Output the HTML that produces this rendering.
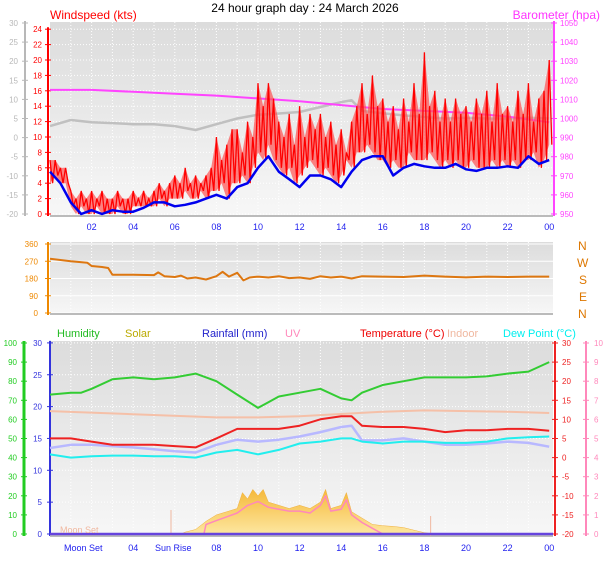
<!DOCTYPE html>
<html><head><meta charset="utf-8"><style>
body{margin:0;background:#fff;}
svg{display:block;font-family:"Liberation Sans",sans-serif;}
</style></head><body>
<svg id="c" width="608" height="561" viewBox="0 0 608 561">
<defs>
<linearGradient id="bg1" x1="0" y1="0" x2="0" y2="1">
<stop offset="0" stop-color="#dcdcdc"/><stop offset="0.6" stop-color="#ececec"/><stop offset="1" stop-color="#f7f7f7"/></linearGradient>
<linearGradient id="sol" x1="0" y1="0" x2="0" y2="1">
<stop offset="0" stop-color="#f5b93a"/><stop offset="1" stop-color="#fde7a0"/></linearGradient>
</defs>
<text x="305" y="12" font-size="12" text-anchor="middle" fill="#000">24 hour graph day : 24 March 2026</text>
<text x="50" y="19" font-size="12" fill="#ff0000">Windspeed (kts)</text>
<text x="600" y="19" font-size="12" fill="#ff33ff" text-anchor="end">Barometer (hpa)</text>
<rect x="50" y="22" width="503" height="194" fill="url(#bg1)"/>
<rect x="50" y="242" width="503" height="72" fill="url(#bg1)"/>
<rect x="50" y="341" width="503" height="195" fill="url(#bg1)"/>
<g id="grid"></g>
<g id="axes"></g>
<g id="series"></g>
<g font-size="11">
<text x="57" y="337" fill="#22bb22">Humidity</text>
<text x="125" y="337" fill="#bbaa00">Solar</text>
<text x="202" y="337" fill="#2222cc">Rainfall (mm)</text>
<text x="285" y="337" fill="#ff88bb">UV</text>
<text x="360" y="337" fill="#ee0000">Temperature (°C)</text>
<text x="447" y="337" fill="#f0b8a0">Indoor</text>
<text x="503" y="337" fill="#00eeee">Dew Point (°C)</text>
</g>
<g font-size="12" fill="#dd7700">
<text x="578" y="250">N</text><text x="577" y="267">W</text><text x="579" y="284">S</text><text x="579" y="301">E</text><text x="578" y="318">N</text>
</g>
</svg>
<script>
// ---- data ----
const hours = [0,0.5,1,1.5,2,2.5,3,3.5,4,4.5,5,5.5,6,6.5,7,7.5,8,8.5,9,9.5,10,10.5,11,11.5,12,12.5,13,13.5,14,14.5,15,15.5,16,16.5,17,17.5,18,18.5,19,19.5,20,20.5,21,21.5,22,22.5,23,23.5,24];
const windAvg = [5.5,4,1.5,0,0.5,0,0.5,0.3,0.3,0.8,1.5,1.5,1,1.2,1.5,2,2.5,2,3.5,4,6,7.5,5.5,4.5,3.5,5,5,4.5,3.5,5.5,7,7.5,7.5,5,6,6.5,6.2,6,6,6.5,5.8,5.6,6,6,6.2,6,7.5,6.5,7];
const gustMax = [7,7,6,6, 3,2,3,2, 3,2,3,2, 2,3,2,2, 3,2,3,2, 3,4,3,4, 5,4,6,4, 5,4,5,6, 10,7,9,11, 11,8,12,10, 17,14,17,15, 12,10,13,9, 14,10,13,11, 13,10,12,9, 11,8,12,14, 17,13,18,14, 15,12,14,11, 15,12,17,13, 21,14,16,12, 15,12,15,13, 14,12,15,13, 16,12,17,13, 14,12,16,13, 17,12,15,16, 20];
const gustMin = [4,5,4,4, 1,0,1,0, 0,1,0,0, 0,1,0,0, 1,1,1,1, 1,2,1,2, 2,2,3,2, 2,3,2,3, 3,4,2,4, 4,5,4,6, 8,7,9,7, 6,5,6,4, 5,6,7,6, 5,6,5,4, 5,7,6,8, 8,9,8,7, 7,6,7,6, 6,8,7,7, 7,8,7,6, 7,6,7,6, 6,7,6,6, 6,7,6,7, 6,7,6,7, 7,8,6,7, 9];
const baroHours = [0,2,4,6,8,10,12,14,16,18,20,22,24];
const baro = [1015,1015,1014,1013,1012,1010.5,1009,1007,1005,1004,1003,1001,998];
const greyHours = [0,1,2,3,4,5,6,7,8,9,10,11,12,13,14,14.5,15,16,17,18,19,20,21,22,23,24];
const greyVals = [3,4.6,4,3.8,3.5,3.5,3,2,3.5,5,6,6.3,6.7,8,9.3,9.8,7,6.4,5.8,5.4,5,5.2,5,5,5.2,5];
const dirHours = [0,1,1.8,2,2.5,2.8,3,4,5,5.2,5.5,6,6.3,6.6,7,7.5,8,8.3,8.6,9,9.3,9.6,10,10.5,11,11.5,12,12.5,13,13.5,14,14.5,15,16,17,18,19,20,21,22,23,24];
const dirVals = [283,270,262,245,240,235,200,200,198,212,192,188,195,180,185,175,192,215,190,210,170,185,190,185,192,182,185,178,192,185,190,180,192,190,188,195,190,186,190,188,190,190];
const humHours = [0,1,1.5,2,3,4,5,6,7,8,9,10,10.5,11,12,13,14,14.5,15,16,17,18,19,20,21,22,23,24];
const humVals = [73,74,74,76,81,82,81,82,84,80,73,66,69,72,74,76,71,70,74,78,80,82,82,82,82.5,84,85,90];
const tHours = [0,1,2,3,4,5,6,7,8,9,10,11,12,13,14,14.5,15,16,17,18,19,20,21,22,23,24];
const tempVals = [15,15,14.5,14,14,14,13.8,13.6,15,16.5,16.5,16.5,17,18,18.5,18.5,17,16.8,16.8,16.5,16,16.3,16.3,16.5,16.5,16.2];
const appVals = [13.5,14,14,13.8,13.6,13.3,13,12.8,14,14.8,14.5,14.8,15.3,16,16.8,17,14.7,14.7,15,14.5,14,14,14.2,14.5,14.3,13.7];
const dewVals = [12.5,12,12.2,12.3,12.3,12.2,12.2,12,12.8,13.2,12.5,13.2,14.2,14.5,15,15,14.5,14.2,14.5,14.5,14.3,14.3,14.5,15,15.2,15.3];
const indoorHours = [0,4,8,10,12,16,18,20,22,24];
const indoorVals = [19.3,18.8,18.3,18.3,18.5,19.2,19.4,19.3,19.2,19];
const solarHours = [0,6.3,6.5,7,7.5,8,8.5,9,9.25,9.5,9.75,10,10.25,10.5,11,11.5,12,12.5,13,13.25,13.5,14,14.25,14.5,15,15.5,16,16.5,17,17.5,18,18.5,24];
const solarVals = [0,0,0.3,0.7,2,3,3.5,4,6.5,5.5,7,6,7,5,4.5,4,4.5,4,5,7,4,4.5,6.5,3.5,2.5,1.5,1.3,1.2,1,0.6,0.2,0,0];
const uvHours = [0,7.4,7.5,8,8.5,9,9.5,10,10.5,11,11.5,12,12.5,13,13.25,13.5,14,14.25,14.5,15,15.5,16,24];
const uvVals = [0,0,0.5,0.7,0.9,1.1,1.5,1.7,1.4,1.3,1.2,1.2,1.1,1.5,2,1.2,1.3,1.8,1.0,0.6,0.3,0,0];
const windTicks = [0,2,4,6,8,10,12,14,16,18,20,22,24];
const greyTicks = [-20,-15,-10,-5,0,5,10,15,20,25,30];
const baroTicks = [950,960,970,980,990,1000,1010,1020,1030,1040,1050];
const dirTicks = [0,90,180,270,360];
const humTicks = [0,10,20,30,40,50,60,70,80,90,100];
const leftTTicks = [0,5,10,15,20,25,30];
const rightTTicks = [-20,-15,-10,-5,0,5,10,15,20,25,30];
const uvTicks = [0,1,2,3,4,5,6,7,8,9,10];
const hourLabels = ['02','04','06','08','10','12','14','16','18','20','22','00'];

// ---- scales ----
const X = h => 50 + h*20.8;
const yWind = v => 214 - v*7.7;
const yGrey = v => 214 - (v+20)*3.82;
const yBaro = v => 214 - (v-950)*1.91;
const yDir = v => 313 - v*69/360;
const yHum = v => 534 - v*1.91;
const yT = v => 534 - v*6.37;
const yTR = v => 534 - (v+20)*3.82;
const yUV = v => 534 - v*19.1;

const NS='http://www.w3.org/2000/svg';
function mk(tag, attrs, parent){const e=document.createElementNS(NS,tag);for(const k in attrs)e.setAttribute(k,attrs[k]);parent.appendChild(e);return e;}
const grid=document.getElementById('grid'), axes=document.getElementById('axes'), ser=document.getElementById('series');

[[22,216],[242,314],[341,536]].forEach(([t,b])=>{
  for(let h=1;h<24;h++){mk('line',{x1:X(h),x2:X(h),y1:t,y2:b,stroke:'#fff','stroke-dasharray':'1,2','stroke-width':1},grid);}
});
windTicks.forEach(v=>mk('line',{x1:50,x2:553,y1:yWind(v),y2:yWind(v),stroke:'#fff','stroke-dasharray':'1,2'},grid));
dirTicks.forEach(v=>mk('line',{x1:50,x2:553,y1:yDir(v),y2:yDir(v),stroke:'#fff'},grid));
leftTTicks.forEach(v=>mk('line',{x1:50,x2:553,y1:yT(v),y2:yT(v),stroke:'#fff','stroke-dasharray':'1,2'},grid));

function axis(x, ticks, yf, color, labelX, anchor, name, lw){
  const g=mk('g',{},axes);
  
  
  const ys=ticks.map(yf);
  mk('line',{x1:x,x2:x,y1:Math.min(...ys)-2,y2:Math.max(...ys)+2,stroke:color,'stroke-width':lw||2},g);
  ticks.forEach((v,i)=>{
    mk('line',{x1:x-3,x2:x+3,y1:ys[i],y2:ys[i],stroke:color},g);
    const t=mk('text',{x:labelX,y:ys[i]+3,'font-size':8,fill:color,'text-anchor':anchor},g);
    t.textContent=v;
  });
}
axis(25,greyTicks,yGrey,'#b8b8b8',18,'end','grey-axis');
axis(48,windTicks,yWind,'#ff0000',42,'end','wind-axis');
axis(554,baroTicks,yBaro,'#ff44ff',560,'start','barometer-axis');
axis(48,dirTicks,yDir,'#ee8800',38,'end','direction-axis');
axis(24,humTicks,yHum,'#22cc22',17,'end','humidity-axis',3);
axis(50,leftTTicks,yT,'#3333dd',42,'end','left-temp-axis');
axis(555,rightTTicks,yTR,'#ee2222',562,'start','right-temp-axis');
axis(586,uvTicks,yUV,'#ff88bb',594,'start','uv-axis');
[[216,230],[536,551]].forEach(([yl,ty],k)=>{
  mk('line',{x1:50,x2:553,y1:yl,y2:yl,stroke:'#bbb','stroke-width':2},axes);
  hourLabels.forEach((s,i)=>{
    const h=(i+1)*2;
    const t=mk('text',{x:X(h),y:ty,'font-size':9,fill:'#2222ee','text-anchor':'middle'},axes);
    
    
    t.textContent=(k===1&&(s==='02'||s==='06'))?'':s;
  });
});
mk('line',{x1:50,x2:553,y1:314,y2:314,stroke:'#bbb','stroke-width':2},axes);
[['Moon Set',64],['Sun Rise',155]].forEach(([s,x])=>{
  const t=mk('text',{x:x,y:551,'font-size':9,fill:'#2222ee'},axes);t.textContent=s;
});

function path(hs, vs, yf){return hs.map((h,i)=>(i?'L':'M')+X(h).toFixed(1)+','+yf(vs[i]).toFixed(1)).join('');}
function line(hs,vs,yf,color,w,name){
  const p=mk('path',{d:path(hs,vs,yf),fill:'none',stroke:color,'stroke-width':w,'stroke-linejoin':'round'},ser);
  
  
}
// top panel
line(greyHours,greyVals,yGrey,'#c0c0c0',2.5,'grey-series-line');
line(baroHours,baro,yBaro,'#ff44ff',2,'barometer-line');
const qh = gustMax.map((v,i)=>i/4);
const band=mk('path',{d:path(qh,gustMax,yWind)+qh.slice().reverse().map((h,j)=>'L'+X(h).toFixed(1)+','+yWind(gustMin[qh.length-1-j]).toFixed(1)).join('')+'Z',fill:'#ff5050','fill-opacity':0.7,stroke:'none'},ser);


let zz='';
qh.forEach((h,i)=>{const x=X(h);zz+=(i?'L':'M')+x.toFixed(1)+','+yWind(gustMax[i]).toFixed(1)+'L'+(x+2.6).toFixed(1)+','+yWind(gustMin[i]).toFixed(1);});
const gz=mk('path',{d:zz,fill:'none',stroke:'#ff0000','stroke-width':1.3},ser);


line(hours,windAvg,yWind,'#0000ee',2.5,'wind-average-line');
// direction
line(dirHours,dirVals,yDir,'#dd7711',2,'wind-direction-line');
// bottom panel
const sp=mk('path',{d:path(solarHours,solarVals,yT)+'L'+X(24)+','+yT(0)+'L'+X(0)+','+yT(0)+'Z',fill:'url(#sol)',stroke:'#f0b040','stroke-width':0.5},ser);


line(uvHours,uvVals,yUV,'#ff88bb',1.5,'uv-line');
mk('line',{x1:171,x2:171,y1:510,y2:536,stroke:'#f0b8a0'},ser);
mk('line',{x1:X(18.3),x2:X(18.3),y1:516,y2:536,stroke:'#f0b8a0'},ser);
const rain=mk('line',{x1:50,x2:553,y1:534,y2:534,stroke:'#6644dd','stroke-width':2.5},ser);


const ms=mk('text',{x:60,y:533,'font-size':9,fill:'#f0b8a0'},ser);ms.textContent='Moon Set';
line(indoorHours,indoorVals,yT,'#f5c0a8',2,'indoor-temp-line');
line(tHours,appVals,yT,'#b8b8ff',2.5,'apparent-temp-line');
line(tHours,dewVals,yT,'#22eeee',2,'dew-point-line');
line(tHours,tempVals,yT,'#ee2222',2,'temperature-line');
line(humHours,humVals,yHum,'#33cc33',2,'humidity-line');
</script>
</body></html>
